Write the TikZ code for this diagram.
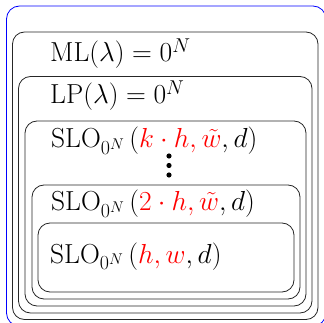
\documentclass[tikz,border=0pt]{standalone}
\usepackage{fix-cm}
\usepackage{xcolor}
\DeclareMathSizes{27.5}{27.5}{20}{15.5}
\begin{document}
\tikzset{
  outerbox/.style={draw=blue, line width=0.8pt, rounded corners=13pt},
  layerbox/.style={draw=black!85, line width=0.8pt, rounded corners=12pt},
  lbl/.style={anchor=base west, inner sep=0pt, font=\fontsize{27.5}{33}\selectfont},
  dotmark/.style={fill=black},
}
\begin{tikzpicture}[x=1pt,y=-1pt]
\useasboundingbox (0,0) rectangle (324,323);
\clip (0,0) rectangle (324,323);
\draw[outerbox] (6.5,6) rectangle (326,326);
\draw[layerbox] (12.5,32) rectangle (318,319.5);
\draw[layerbox] (18.5,76.5) rectangle (312,313);
\draw[layerbox] (25,121) rectangle (306,306);
\draw[layerbox] (32,185) rectangle (300,299);
\draw[layerbox] (38,223) rectangle (294,292);
\node[lbl] (ml) at (50,62) {$\mathrm{ML}(\lambda)=0^N$};
\node[lbl] (lp) at (50,104) {$\mathrm{LP}(\lambda)=0^N$};
\node[lbl] (slok) at (51,148) {$\mathrm{SLO}_{0^N}\,(\textcolor{red}{k\cdot h, \tilde{w}}, d)$};
\node[lbl] (slotwo) at (51,211) {$\mathrm{SLO}_{0^N}\,(\textcolor{red}{2\cdot h, \tilde{w}}, d)$};
\node[lbl] (sloh) at (50,263) {$\mathrm{SLO}_{0^N}\,(\textcolor{red}{h, w}, d)$};
\fill[dotmark] (169,156) circle (2.6pt);
\fill[dotmark] (169,165.5) circle (2.6pt);
\fill[dotmark] (169,175) circle (2.6pt);
\end{tikzpicture}
\end{document}
